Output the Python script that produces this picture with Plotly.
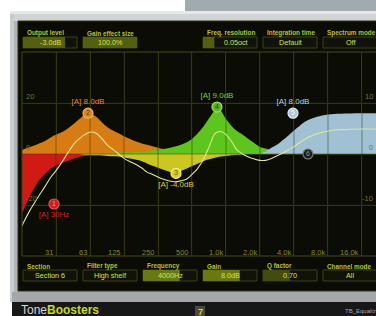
import math
import plotly.graph_objects as go

W, H = 376, 316

# ---------------- data ----------------
tick_freqs = [31.25, 62.5, 125, 250, 500, 1000, 2000, 4000, 8000, 16000]
tick_labels = ["31", "63", "125", "250", "500", "1.0k", "2.0k", "4.0k", "8.0k", "16.0k"]
f_min, f_max = 15.625, 21290
grid_db = [10, 0, -10]
left_db_labels = ["20", "0", "-20"]
right_db_labels = ["10", "0", "-10"]

# band 1 : low cut (red)
red_f = [15.625, 16, 18, 20, 22.4, 25, 28, 31.5, 35.5, 40, 45, 50, 56, 63, 80, 100, 125, 160]
red_db = [-11.6, -11.2, -8.6, -6.7, -5.0, -3.9, -2.9, -2.2, -1.7, -1.3, -0.9, -0.6, -0.4, -0.3, -0.2, -0.1, -0.05, 0]

# band 2 : peak +8 dB (orange)
orange_f = [15.625, 16, 18, 20, 22.4, 25, 28, 31.5, 35.5, 40, 45, 50, 56, 60, 63, 71, 80, 90, 100, 112,
            125, 140, 160, 180, 200, 224, 250, 280, 315, 355, 400, 450, 500, 630, 800, 1000, 1250]
orange_db = [0.8, 0.86, 1.3, 1.65, 2.1, 2.55, 3.25, 3.8, 4.3, 5.05, 5.95, 6.8, 7.7, 8.0, 7.95, 7.3, 6.2, 5.2, 4.6, 4.05,
             3.5, 3.0, 2.45, 2.05, 1.8, 1.5, 1.25, 1.0, 0.8, 0.67, 0.55, 0.45, 0.37, 0.25, 0.12, 0.05, 0]

# band 3 : dip -4 dB (yellow)
yellow_f = [50, 56, 63, 71, 80, 90, 100, 112, 125, 140, 160, 180, 200, 224, 250, 280, 315, 355, 400, 450,
            500, 560, 630, 710, 800, 900, 1000, 1120, 1250, 1400, 1600]
yellow_db = [0, -0.15, -0.2, -0.25, -0.3, -0.4, -0.45, -0.5, -0.7, -0.9, -1.15, -1.4, -1.85, -2.3, -2.7, -3.1,
             -3.5, -3.75, -3.35, -2.85, -2.35, -1.9, -1.4, -1.05, -0.75, -0.5, -0.4, -0.25, -0.15, -0.08, 0]

# band 4 : peak +9 dB (green)
green_f = [56, 63, 80, 100, 125, 140, 160, 180, 200, 224, 250, 280, 315, 355, 400, 450, 500, 560, 630, 710,
           800, 832, 900, 1000, 1120, 1250, 1400, 1600, 1800, 2000, 2240, 2500, 2800, 3150, 3550, 4000, 5000, 6300]
green_db = [0, 0.15, 0.2, 0.25, 0.3, 0.32, 0.36, 0.42, 0.5, 0.67, 0.82, 1.0, 1.2, 1.45, 1.8, 2.3, 2.95, 4.0, 5.35, 7.05,
            8.7, 9.1, 8.5, 6.85, 5.5, 4.5, 3.8, 2.85, 2.05, 1.37, 1.08, 0.75, 0.53, 0.35, 0.24, 0.16, 0.06, 0]

# band 5 : high shelf +8 dB (light blue)
blue_f = [1250, 1600, 2000, 2240, 2500, 2800, 3150, 3550, 4000, 4500, 5000, 5600, 6300, 7100, 8000, 9000,
          10000, 12500, 16000, 21290]
blue_db = [0, 0.08, 0.15, 0.5, 1.2, 1.75, 2.65, 3.6, 4.6, 5.55, 6.3, 6.85, 7.25, 7.55, 7.75, 7.85,
           7.9, 7.95, 8.0, 8.0]

# combined response (thin line)
sum_f = [15.625, 16, 18, 20, 22.4, 25, 28, 31.5, 35.5, 40, 45, 50, 56, 63, 71, 80, 90, 100, 112, 125, 140,
         160, 180, 200, 224, 250, 280, 315, 355, 400, 450, 500, 560, 630, 710, 800, 900, 1000, 1120, 1250,
         1400, 1600, 1800, 2000, 2240, 2500, 2800, 3150, 3550, 4000, 4500, 5000, 5600, 6300, 7100, 8000,
         9000, 10000, 12500, 16000, 21290]
sum_db = [-14.1, -13.6, -11.4, -9.7, -7.95, -6.35, -4.6, -3.15, -1.5, 0.3, 1.95, 2.95, 3.8, 4.3, 4.05, 2.95,
          1.65, 0.9, 0, -0.85, -1.45, -2.05, -2.75, -3.55, -4.0, -4.5, -4.95, -5.3, -5.45, -5.25, -4.9, -4.0,
          -2.85, -1.1, 1.45, 4.0, 4.4, 3.8, 2.45, 0.8, 0, -0.65, -1.0, -1.25, -1.25, -0.95, -0.4, 0.15, 0.8,
          1.45, 2.25, 2.95, 3.5, 3.9, 4.25, 4.45, 4.7, 4.75, 4.85, 4.9, 4.9]

# section handles
mk_f = [30, 60, 361, 832, 3920, 5320]
mk_db = [-9.8, 8.0, -3.8, 9.2, 8.0, 0]
mk_num = ["1", "2", "3", "4", "5", "6"]
mk_label = ["[A] 30Hz", "[A] 8.0dB", "[A] -4.0dB", "[A] 9.0dB", "[A] 8.0dB", ""]

# controls
top_labels = ["Output level", "Gain effect size", "", "Freq. resolution", "Integration time", "Spectrum mode"]
top_values = ["-3.0dB", "100.0%", "", "0.05oct", "Default", "Off"]
top_fill = [0.78, 1.0, 0, 0.21, 0, 0]
bot_labels = ["Section", "Filter type", "Frequency", "Gain", "Q factor", "Channel mode"]
bot_values = ["Section 6", "High shelf", "4000Hz", "8.0dB", "0.70", "All"]
bot_fill = [0, 0, 0.68, 0.68, 0.5, 0]

# ---------------- helpers ----------------
def px(x):
    return x / W

def py(y):
    return 1 - y / H

FONT = "Liberation Sans, Arial, sans-serif"
shapes = []
annots = []

def rect(x0, y0, x1, y1, fill, line=None, lw=1, layer="below"):
    shapes.append(dict(type="rect", xref="paper", yref="paper",
                       x0=px(x0), x1=px(x1), y0=py(y1), y1=py(y0),
                       fillcolor=fill if fill else "rgba(0,0,0,0)",
                       line=dict(color=line if line else "rgba(0,0,0,0)", width=lw if line else 0),
                       layer=layer))

def text(x, y, s, size, color, xanchor="left", bold=False, yanchor="middle"):
    annots.append(dict(xref="paper", yref="paper", x=px(x), y=py(y), text=("<b>%s</b>" % s) if bold else s,
                       showarrow=False, xanchor=xanchor, yanchor=yanchor,
                       font=dict(family=FONT, size=size, color=color)))

# ---------------- background / chrome ----------------
rect(185, 0, 380, 11, "#9fabaf")
rect(10, 11, 380, 302, "#b0b4b6")
rect(10, 11, 380, 14, "#e6e9ea")
rect(10, 14, 380, 21, "#d0d4d5")
rect(10, 14, 14, 302, "#c8cccd")
rect(12, 292, 380, 302, "#a3a7a9")
rect(18, 21, 380, 291, "#0b0c06", "#2c2e10")
rect(12, 302, 380, 316, "#171717")
rect(195, 306, 205, 316, "#4a4a3a")
text(200, 311.5, "7", 9, "#d8d820", xanchor="center", bold=True)
text(19, 310, "Tone<b><span style='color:#c4dc1c'>Boosters</span></b>", 12, "#d6d6d6")
text(343, 311, "TB_Equaliz", 6, "#a8a8a8")

# controls
for i in range(6):
    x0 = 23 + 60 * i
    x1 = min(x0 + 54, 378)
    if top_labels[i]:
        rect(x0, 37, x1, 48, "#11130a", "#3a4010")
        if top_fill[i] > 0:
            rect(x0, 37, x0 + 54 * top_fill[i], 48, "#55600f")
        text(x0 + 2, 33, top_labels[i], 6.4, "#b6c42c", bold=True)
        text((x0 + x1) / 2 + (6 if i == 3 else 0), 42.5, top_values[i], 7.2, "#d4e448", xanchor="center")
    rect(x0, 270, x1, 281, "#11130a", "#3a4010")
    if bot_fill[i] > 0:
        rect(x0, 270, x0 + 54 * bot_fill[i], 281, "#6a7812" if i < 4 else "#434c10")
    text(x0 + 2, 266, bot_labels[i], 6.4, "#b6c42c", bold=True)
    text((x0 + x1) / 2, 275.5, bot_values[i], 7.2, "#d4e448", xanchor="center")

# graph border
rect(22, 52, 380, 256, None, "#46481a", 1, layer="above")

# frequency labels
for f, lab in zip(tick_freqs, tick_labels):
    annots.append(dict(xref="x", yref="paper", x=math.log10(f), y=py(252.5), text=lab, showarrow=False,
                       xanchor="right", yanchor="middle", xshift=-1,
                       font=dict(family=FONT, size=7.5, color="#85872e")))
# dB labels
for d, l, r in zip(grid_db, left_db_labels, right_db_labels):
    annots.append(dict(xref="paper", yref="y", x=px(24), y=d, text=l, showarrow=False, xanchor="left",
                       yanchor="bottom", font=dict(family=FONT, size=7.5, color="#74762a")))
    annots.append(dict(xref="paper", yref="y", x=px(375), y=d, text=r, showarrow=False, xanchor="right",
                       yanchor="bottom", font=dict(family=FONT, size=7.5, color="#74762a")))

# ---------------- traces ----------------
fig = go.Figure()

def band(f, d, color):
    fig.add_trace(go.Scatter(x=f, y=d, mode="lines", line=dict(width=0, shape="spline", color=color),
                             fill="tozeroy", fillcolor=color, hoverinfo="skip", showlegend=False))

band(red_f, red_db, "#d01a14")
band(orange_f, orange_db, "#d67c12")
band(yellow_f, yellow_db, "#cac820")
band(green_f, green_db, "#5cc61c")
band(blue_f, blue_db, "#a0c0d4")

# grid overlay (over the fills)
gx, gy = [], []
for f in tick_freqs:
    gx += [f, f, None]
    gy += [-20, 20, None]
for d in grid_db:
    gx += [f_min, f_max, None]
    gy += [d, d, None]
fig.add_trace(go.Scatter(x=gx, y=gy, mode="lines", line=dict(width=1, color="rgba(40,44,8,0.45)"),
                         hoverinfo="skip", showlegend=False))

# combined response
fig.add_trace(go.Scatter(x=sum_f, y=sum_db, mode="lines", line=dict(width=1.1, color="#e2e69a", shape="spline"),
                         hoverinfo="skip", showlegend=False))

mk_fill = ["#c81e1e", "#d88a22", "#d6d030", "#5cb420", "#a8c8dc", "#1c1c16"]
mk_line = ["#f05050", "#f2b458", "#f4f07a", "#98e060", "#e6f2ff", "#7c7c6c"]
mk_txt = ["#d82222", "#e08a30", "#d8d040", "#78d030", "#b0d0e0", "#000000"]
mk_pos = ["bottom center", "top center", "bottom center", "top center", "top center", "top center"]
fig.add_trace(go.Scatter(x=mk_f, y=mk_db, mode="markers+text", text=mk_label, textposition=mk_pos,
                         textfont=dict(family=FONT, size=8, color=mk_txt),
                         marker=dict(size=10, color=mk_fill, line=dict(color=mk_line, width=1.2)),
                         hoverinfo="skip", showlegend=False))
fig.add_trace(go.Scatter(x=mk_f, y=mk_db, mode="text", text=mk_num, textposition="middle center",
                         textfont=dict(family=FONT, size=7,
                                       color=["#ff9090", "#6a3a00", "#6a6400", "#1e4a00", "#ffffff", "#9a9a8a"]),
                         hoverinfo="skip", showlegend=False))

fig.update_layout(
    width=W, height=H, margin=dict(l=0, r=0, t=0, b=0),
    paper_bgcolor="#ffffff", plot_bgcolor="#000000",
    shapes=shapes, annotations=annots, showlegend=False,
    xaxis=dict(type="log", domain=[px(22), 1], range=[math.log10(f_min), math.log10(f_max)],
               tickvals=tick_freqs, showticklabels=False, ticks="", showgrid=True,
               gridcolor="#36380f", gridwidth=1, zeroline=False, showline=False, fixedrange=True),
    yaxis=dict(domain=[py(256), py(52)], range=[-20, 20], tickvals=grid_db, showticklabels=False,
               ticks="", showgrid=True, gridcolor="#36380f", gridwidth=1, zeroline=False,
               showline=False, fixedrange=True),
)

fig.write_html("out.html", config={"displayModeBar": False})

# remove the browser's default page margin so the figure sits at the window's top-left corner
with open("out.html", "r", encoding="utf-8") as fh:
    html = fh.read()
html = html.replace("<head>", "<head><style>html,body{margin:0;padding:0;overflow:hidden;}</style>", 1)
with open("out.html", "w", encoding="utf-8") as fh:
    fh.write(html)
